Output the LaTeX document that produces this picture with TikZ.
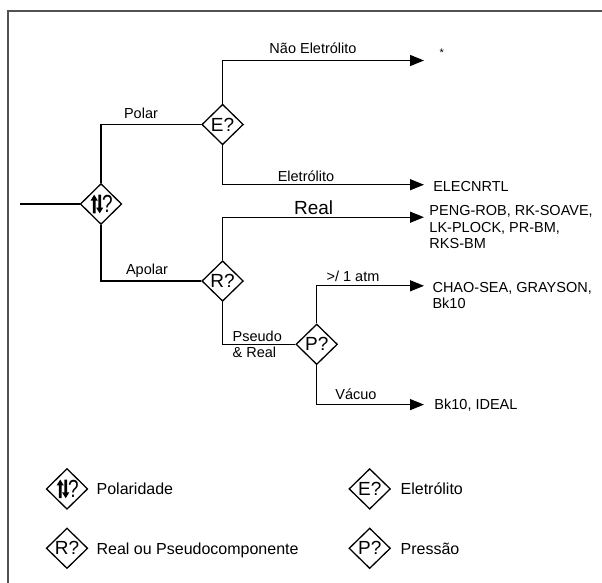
\documentclass[tikz,border=0pt]{standalone}
\usepackage{fontspec}
\usepackage{graphicx}
\setmainfont{Liberation Sans}
\usetikzlibrary{shapes.geometric,arrows.meta}
\begin{document}
\begin{tikzpicture}[x=1pt,y=-1pt,
  line width=1.3pt,
  dec/.style={diamond,draw,line width=1.3pt,minimum width=41.5pt,minimum height=40.5pt,inner sep=0pt,font=\fontsize{19}{20}\selectfont},
  lbl/.style={font=\fontsize{14.5}{16.3}\selectfont,anchor=base,inner sep=0pt},
  res/.style={font=\fontsize{14.5}{16.3}\selectfont,anchor=base west,inner sep=0pt,align=left},
  leg/.style={font=\fontsize{16}{18}\selectfont,anchor=base west,inner sep=0pt},
  arr/.style={-{Triangle[length=14pt,width=11pt]}},
  frame/.style={draw=black!68,line width=2pt},
  polsym/.pic={
    \fill (-6.8,-9.3) -- (-3.2,-3.5) -- (-5.5,-3.5) -- (-5.5,9.3) -- (-8.1,9.3) -- (-8.1,-3.5) -- (-10.4,-3.5) -- cycle;
    \fill (-1.3,9.3) -- (2.3,3.5) -- (0,3.5) -- (0,-9.3) -- (-2.6,-9.3) -- (-2.6,3.5) -- (-4.9,3.5) -- cycle;
  },
]
\useasboundingbox (0,0) rectangle (602,582);
\draw[frame] (8.3,10.8) rectangle (620,600);
% decision diamonds
\node[dec] (pol) at (101,204) {\hspace{13pt}\raisebox{-1.5pt}{\scalebox{1}[1.3]{?}}};
\pic at (pol.center) {polsym};
\node[dec] (E) at (222.6,124.5) {E?};
\node[dec] (R) at (222.6,281) {R?};
\node[dec] (P) at (316.7,344.3) {P?};
% arrow end points
\coordinate (in) at (20,204);
\coordinate (tN) at (424,60.5);
\coordinate (tE) at (424,184.7);
\coordinate (tR) at (424,217.2);
\coordinate (tH) at (424,285.8);
\coordinate (tV) at (424,404.6);
% connectors
\draw (in) -- (pol.west);
\draw (pol.north) |- (E.west);
\draw (pol.south) |- (R.west);
\draw[arr] (E.north) |- (tN);
\draw[arr] (E.south) |- (tE);
\draw[arr] (R.north) |- (tR);
\draw (R.south) |- (P.west);
\draw[arr] (P.north) |- (tH);
\draw[arr] (P.south) |- (tV);
% branch labels
\node[lbl] (lNE) at (313,53.9) {Não Eletrólito};
\node[lbl] (lPol) at (141,118.7) {Polar};
\node[lbl] (lEl) at (306,181.1) {Eletrólito};
\node[lbl,font=\fontsize{19}{21}\selectfont] (lReal) at (313.6,214.7) {Real};
\node[lbl] (lAp) at (147,274.6) {Apolar};
\node[lbl] (lAtm) at (353,281.4) {>/ 1 atm};
\node[res] (lPs) at (232,357.5) {Pseudo\\\& Real};
\node[lbl] (lVac) at (356,399.1) {Vácuo};
% results
\node[res,font=\fontsize{11}{12}\selectfont] (star) at (439,56) {*};
\node[res] (elec) at (432.6,191.2) {ELECNRTL};
\node[res] (peng) at (428.8,248.5) {PENG-ROB, RK-SOAVE,\\LK-PLOCK, PR-BM,\\RKS-BM};
\node[res] (chao) at (431.9,308.9) {CHAO-SEA, GRAYSON,\\Bk10};
\node[res] (bk) at (433.8,409) {Bk10, IDEAL};
% legend
\node[dec] (g1) at (67,488.9) {\hspace{13pt}\raisebox{-1.5pt}{\scalebox{1}[1.3]{?}}};
\pic at (g1.center) {polsym};
\node[leg] (t1) at (96,494.8) {Polaridade};
\node[dec] (g2) at (369.7,488.9) {E?};
\node[leg] (t2) at (400,494.8) {Eletrólito};
\node[dec] (g3) at (67,548.3) {R?};
\node[leg] (t3) at (96,554.1) {Real ou Pseudocomponente};
\node[dec] (g4) at (369.7,548.3) {P?};
\node[leg] (t4) at (400,554.1) {Pressão};
\end{tikzpicture}
\end{document}
